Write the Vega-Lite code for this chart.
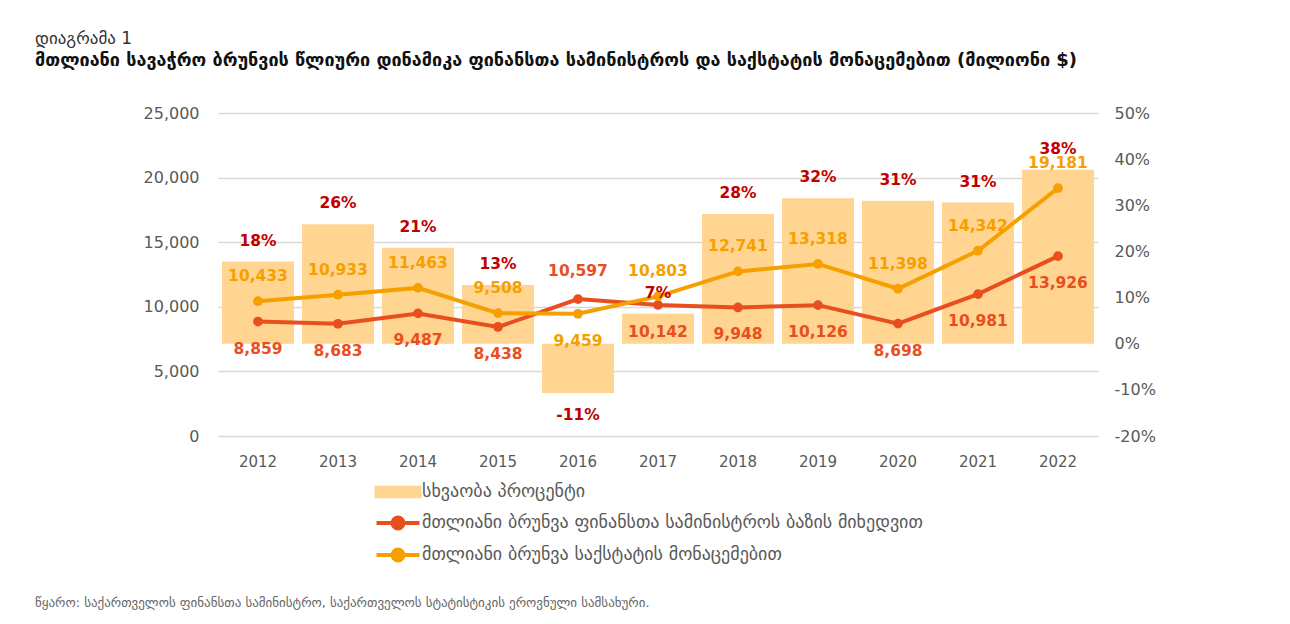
{
  "$schema": "https://vega.github.io/schema/vega-lite/v6.json",
  "background": "white",
  "padding": {"left": 35, "top": 30, "right": 5, "bottom": 5},
  "config": {
    "font": "DejaVu Sans",
    "view": {"stroke": null},
    "locale": {"number": {"decimal": ".", "thousands": ",", "grouping": [3], "currency": ["$", ""], "minus": "-"}}
  },
  "title": {
    "text": "წყარო: საქართველოს ფინანსთა სამინისტრო, საქართველოს სტატისტიკის ეროვნული სამსახური.",
    "orient": "bottom",
    "anchor": "start",
    "frame": "bounds",
    "font": "DejaVu Sans",
    "fontSize": 13,
    "fontWeight": "normal",
    "color": "#666666",
    "offset": 28
  },
  "vconcat": [
    {
      "width": 880,
      "height": 323,
      "title": {
        "text": "დიაგრამა 1",
        "subtitle": "მთლიანი სავაჭრო ბრუნვის წლიური დინამიკა ფინანსთა სამინისტროს და საქსტატის მონაცემებით (მილიონი $)",
        "anchor": "start",
        "frame": "bounds",
        "dx": -108,
        "font": "DejaVu Sans",
        "fontSize": 17,
        "fontWeight": "normal",
        "color": "#333333",
        "subtitleFont": "DejaVu Sans",
        "subtitleFontSize": 18,
        "subtitleFontWeight": "bold",
        "subtitleColor": "#111111",
        "subtitlePadding": 4,
        "offset": 34
      },
      "data": {
        "values": [
          {"year": "2012", "mof": 8859, "geostat": 10433, "pct": 0.178},
          {"year": "2013", "mof": 8683, "geostat": 10933, "pct": 0.259},
          {"year": "2014", "mof": 9487, "geostat": 11463, "pct": 0.208},
          {"year": "2015", "mof": 8438, "geostat": 9508, "pct": 0.127},
          {"year": "2016", "mof": 10597, "geostat": 9459, "pct": -0.107},
          {"year": "2017", "mof": 10142, "geostat": 10803, "pct": 0.065},
          {"year": "2018", "mof": 9948, "geostat": 12741, "pct": 0.281},
          {"year": "2019", "mof": 10126, "geostat": 13318, "pct": 0.315},
          {"year": "2020", "mof": 8698, "geostat": 11398, "pct": 0.310},
          {"year": "2021", "mof": 10981, "geostat": 14342, "pct": 0.306},
          {"year": "2022", "mof": 13926, "geostat": 19181, "pct": 0.377}
        ]
      },
      "resolve": {"scale": {"y": "independent"}},
      "layer": [
        {
          "mark": {"type": "bar", "color": "#FFD591"},
          "encoding": {
            "x": {
              "field": "year", "type": "ordinal",
              "scale": {"paddingInner": 0.1, "paddingOuter": 0.05},
              "axis": {
                "title": null, "labelAngle": 0, "domain": false, "ticks": false,
                "labelFont": "DejaVu Sans", "labelFontSize": 15, "labelColor": "#595959",
                "labelPadding": 18
              }
            },
            "y": {
              "field": "pct", "type": "quantitative",
              "scale": {"domain": [-0.2, 0.5], "nice": false, "zero": true},
              "axis": {
                "orient": "right", "title": null, "grid": false, "domain": false, "ticks": false,
                "values": [-0.2, -0.1, 0, 0.1, 0.2, 0.3, 0.4, 0.5],
                "format": ".0%",
                "labelFont": "DejaVu Sans", "labelFontSize": 16, "labelColor": "#595959",
                "labelPadding": 16
              }
            },
            "color": {
              "datum": "სხვაობა პროცენტი",
              "scale": {
                "domain": ["სხვაობა პროცენტი", "მთლიანი ბრუნვა ფინანსთა სამინისტროს ბაზის მიხედვით", "მთლიანი ბრუნვა საქსტატის მონაცემებით"],
                "range": ["#FFD591", "#E94E1F", "#F6A000"]
              },
              "legend": {
                "title": null,
                "orient": "none",
                "legendX": 171,
                "legendY": 370,
                "direction": "vertical",
                "labelFont": "DejaVu Sans",
                "labelFontSize": 18,
                "labelColor": "#595959",
                "labelLimit": 800,
                "symbolSize": 100,
                "rowPadding": 4,
                "labelOffset": 15,
                "encode": {
                  "symbols": {
                    "update": {
                      "shape": {"signal": "datum.value == 'სხვაობა პროცენტი' ? 'M-4.3,-0.86H4.3V0.86H-4.3Z' : 'M-4.3,0H4.3M-1.08,0A1.08,1.08 0 1,0 1.08,0A1.08,1.08 0 1,0 -1.08,0Z'"},
                      "fill": {"scale": "color", "field": "value"},
                      "stroke": {"signal": "datum.value == 'სხვაობა პროცენტი' ? 'transparent' : scale('color', datum.value)"},
                      "strokeWidth": {"value": 4},
                      "opacity": {"value": 1}
                    }
                  }
                }
              }
            }
          }
        },
        {
          "layer": [
            {
              "mark": {"type": "line", "strokeWidth": 4, "point": {"filled": true, "size": 95}},
              "encoding": {
                "x": {"field": "year", "type": "ordinal"},
                "y": {
                  "field": "mof", "type": "quantitative",
                  "scale": {"domain": [0, 25000], "nice": false},
                  "axis": {
                    "orient": "left", "title": null, "grid": true, "gridColor": "#D9D9D9", "gridWidth": 1.5,
                    "domain": false, "ticks": false,
                    "values": [0, 5000, 10000, 15000, 20000, 25000],
                    "format": ",.0f",
                    "labelFont": "DejaVu Sans", "labelFontSize": 16, "labelColor": "#595959",
                    "labelPadding": 19
                  }
                },
                "color": {"datum": "მთლიანი ბრუნვა ფინანსთა სამინისტროს ბაზის მიხედვით"}
              }
            },
            {
              "mark": {"type": "line", "strokeWidth": 4, "point": {"filled": true, "size": 95}},
              "encoding": {
                "x": {"field": "year", "type": "ordinal"},
                "y": {"field": "geostat", "type": "quantitative"},
                "color": {"datum": "მთლიანი ბრუნვა საქსტატის მონაცემებით"}
              }
            },
            {
              "transform": [{"filter": "datum.year != '2016'"}],
              "mark": {"type": "text", "font": "DejaVu Sans", "fontSize": 15.5, "fontWeight": "bold", "color": "#E94E1F", "dy": 27, "baseline": "middle"},
              "encoding": {
                "x": {"field": "year", "type": "ordinal"},
                "y": {"field": "mof", "type": "quantitative"},
                "text": {"field": "mof", "type": "quantitative", "format": ",.0f"}
              }
            },
            {
              "transform": [{"filter": "datum.year == '2016'"}],
              "mark": {"type": "text", "font": "DejaVu Sans", "fontSize": 15.5, "fontWeight": "bold", "color": "#E94E1F", "dy": -28, "baseline": "middle"},
              "encoding": {
                "x": {"field": "year", "type": "ordinal"},
                "y": {"field": "mof", "type": "quantitative"},
                "text": {"field": "mof", "type": "quantitative", "format": ",.0f"}
              }
            },
            {
              "transform": [{"filter": "datum.year != '2016'"}],
              "mark": {"type": "text", "font": "DejaVu Sans", "fontSize": 15.5, "fontWeight": "bold", "color": "#F6A000", "dy": -25, "baseline": "middle"},
              "encoding": {
                "x": {"field": "year", "type": "ordinal"},
                "y": {"field": "geostat", "type": "quantitative"},
                "text": {"field": "geostat", "type": "quantitative", "format": ",.0f"}
              }
            },
            {
              "transform": [{"filter": "datum.year == '2016'"}],
              "mark": {"type": "text", "font": "DejaVu Sans", "fontSize": 15.5, "fontWeight": "bold", "color": "#F6A000", "dy": 27, "baseline": "middle"},
              "encoding": {
                "x": {"field": "year", "type": "ordinal"},
                "y": {"field": "geostat", "type": "quantitative"},
                "text": {"field": "geostat", "type": "quantitative", "format": ",.0f"}
              }
            }
          ]
        },
        {
          "layer": [
            {
              "transform": [{"filter": "datum.pct >= 0"}],
              "mark": {"type": "text", "font": "DejaVu Sans", "fontSize": 15.5, "fontWeight": "bold", "color": "#C00000", "dy": -21, "baseline": "middle"},
              "encoding": {
                "x": {"field": "year", "type": "ordinal"},
                "y": {"field": "pct", "type": "quantitative", "scale": {"domain": [-0.2, 0.5], "nice": false}, "axis": null},
                "text": {"field": "pct", "type": "quantitative", "format": ".0%"}
              }
            },
            {
              "transform": [{"filter": "datum.pct < 0"}],
              "mark": {"type": "text", "font": "DejaVu Sans", "fontSize": 15.5, "fontWeight": "bold", "color": "#C00000", "dy": 22, "baseline": "middle"},
              "encoding": {
                "x": {"field": "year", "type": "ordinal"},
                "y": {"field": "pct", "type": "quantitative"},
                "text": {"field": "pct", "type": "quantitative", "format": ".0%"}
              }
            }
          ]
        }
      ]
    }
  ]
}
